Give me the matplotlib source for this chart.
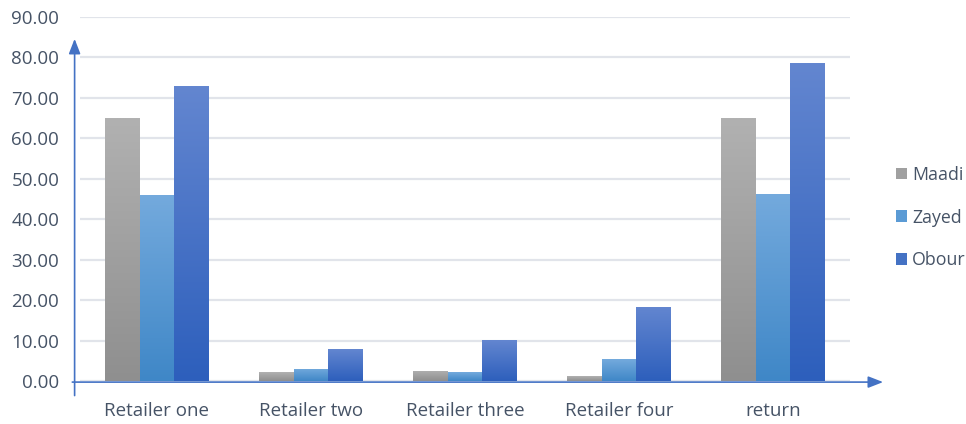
import numpy as np
import matplotlib
matplotlib.use("Agg")
import matplotlib.pyplot as plt
from matplotlib.patches import Rectangle
from matplotlib.colors import LinearSegmentedColormap

categories = ["Retailer one", "Retailer two", "Retailer three", "Retailer four", "return"]
maadi = [65.0, 2.2, 2.5, 1.2, 65.0]
zayed = [46.0, 3.0, 2.2, 5.4, 46.3]
obour = [72.9, 7.9, 10.1, 18.3, 78.6]
series_names = ["Maadi", "Zayed", "Obour"]
y_ticks = [0, 10, 20, 30, 40, 50, 60, 70, 80, 90]

# gradient colours (top, bottom) per series
grads = [("#b1b1b1", "#8f8f8f"), ("#74aadd", "#3f87c7"), ("#6386d0", "#2d5fbc")]
mids = ["#a0a0a0", "#5b9bd5", "#4472c4"]
text_col = "#465366"
axis_col = "#4472c4"

plt.rcParams['font.family'] = ['Open Sans', 'DejaVu Sans']

fig = plt.figure(figsize=(9.66, 4.24), dpi=100)
ax = fig.add_axes([80 / 966, 43 / 424, 770 / 966, 364 / 424])

x = np.arange(len(categories))
w = 0.225
data = [maadi, zayed, obour]
for i, vals in enumerate(data):
    cmap = LinearSegmentedColormap.from_list("g%d" % i, [grads[i][1], grads[i][0]])
    for xi, v in zip(x + (i - 1) * w, vals):
        x0, x1 = xi - w / 2, xi + w / 2
        rect = Rectangle((x0, 0), w, v, facecolor="none", edgecolor="none")
        ax.add_patch(rect)
        grad = np.linspace(0, 1, 256).reshape(-1, 1)
        im = ax.imshow(grad, cmap=cmap, origin="lower", aspect="auto",
                       extent=(x0, x1, 0, v), zorder=2)
        im.set_clip_path(rect)

ax.set_xlim(-0.5, 4.5)
ax.set_ylim(0, 90)
ax.set_yticks(y_ticks)
ax.set_yticklabels(["%.2f" % t for t in y_ticks])
ax.set_xticks(x)
ax.set_xticklabels(categories)
ax.tick_params(axis="both", length=0, labelsize=13.5, colors=text_col)
ax.tick_params(axis="y", pad=15)
ax.tick_params(axis="x", pad=15)
ax.grid(axis="y", color="#e1e4ea", linewidth=1.6, zorder=0)
ax.set_axisbelow(True)
for s in ax.spines.values():
    s.set_visible(False)

# axis lines with arrows
ax.annotate("", xy=(-0.007, 0.94), xytext=(-0.007, -0.04), xycoords="axes fraction",
            arrowprops=dict(arrowstyle="-|>,head_length=0.9,head_width=0.35",
                            color=axis_col, lw=1.2, shrinkA=0, shrinkB=0),
            annotation_clip=False)
ax.annotate("", xy=(1.043, -0.003), xytext=(-0.01, -0.003), xycoords="axes fraction",
            arrowprops=dict(arrowstyle="-|>,head_length=0.9,head_width=0.35",
                            color=axis_col, lw=1.2, shrinkA=0, shrinkB=0),
            annotation_clip=False)

handles = [Rectangle((0, 0), 1, 1, facecolor=c, edgecolor="none") for c in mids]
leg = fig.legend(handles, series_names, loc="center left", bbox_to_anchor=(880 / 966, 0.487),
                 frameon=False, fontsize=12.8, handlelength=0.62, handleheight=0.62,
                 handletextpad=0.3, labelspacing=1.4, labelcolor=text_col)

fig.savefig("out.png", dpi=100)
